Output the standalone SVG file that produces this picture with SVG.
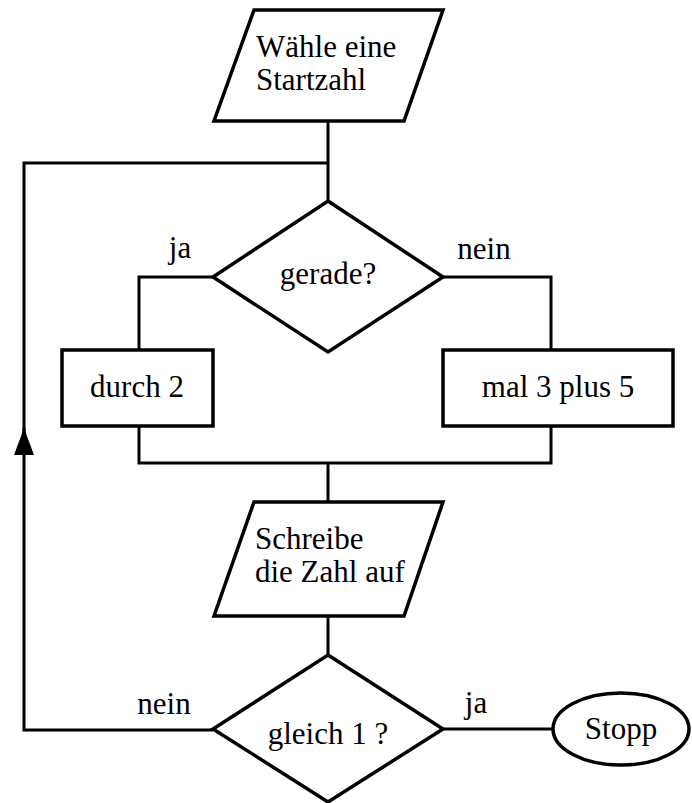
<svg xmlns="http://www.w3.org/2000/svg" width="692" height="803" viewBox="0 0 692 803">
<style>
.s{fill:#fff;stroke:#000;stroke-width:3.5;stroke-linejoin:miter}
.c{fill:none;stroke:#000;stroke-width:3}
text{font-family:'Liberation Serif','Tinos','Times New Roman','DejaVu Serif',serif;font-size:31px;fill:#000}
.m{text-anchor:middle}
</style>
<defs>
<marker id="ah" markerWidth="27" markerHeight="20" refX="27" refY="0" orient="auto" markerUnits="userSpaceOnUse" viewBox="0 -10 27 20">
<path d="M0,-10 L27,0 L0,10 Z" fill="#000"/>
</marker>
</defs>
<g id="connectors">
<path class="c" d="M328,121 V201"/>
<path class="c" d="M328,163 H24 V730 H213"/>
<path class="c" d="M24,455 V428" marker-end="url(#ah)"/>
<path class="c" d="M213,277 H139 V350"/>
<path class="c" d="M443,277 H551 V350"/>
<path class="c" d="M139,426 V463 H551 V426"/>
<path class="c" d="M328,463 V502"/>
<path class="c" d="M328,616 V655"/>
<path class="c" d="M443,729 H552"/>
<text x="180" y="258" class="m">ja</text>
<text x="484" y="259" class="m">nein</text>
<text x="164" y="714" class="m">nein</text>
<text x="476" y="713" class="m">ja</text>
</g>
<g id="start">
<polygon class="s" points="254,10 443,10 404,121 214,121"/>
<text x="256" y="57">Wähle eine</text>
<text x="256" y="90">Startzahl</text>
</g>
<g id="gerade">
<polygon class="s" points="328,201 443,277 328,352 213,277"/>
<text x="328" y="284" class="m">gerade?</text>
</g>
<g id="durch2">
<rect class="s" x="62" y="350" width="151" height="76"/>
<text x="137" y="397" class="m">durch 2</text>
</g>
<g id="mal3">
<rect class="s" x="443" y="350" width="230" height="76"/>
<text x="558" y="397" class="m">mal 3 plus 5</text>
</g>
<g id="schreibe">
<polygon class="s" points="254,502 443,502 404,616 214,616"/>
<text x="255" y="549">Schreibe</text>
<text x="255" y="582">die Zahl auf</text>
</g>
<g id="gleich1">
<polygon class="s" points="328,655 443,729 328,802 213,729"/>
<text x="328" y="744" class="m">gleich 1 ?</text>
</g>
<g id="stopp">
<ellipse class="s" cx="621" cy="729" rx="68" ry="36"/>
<text x="621" y="739" class="m">Stopp</text>
</g>
</svg>
